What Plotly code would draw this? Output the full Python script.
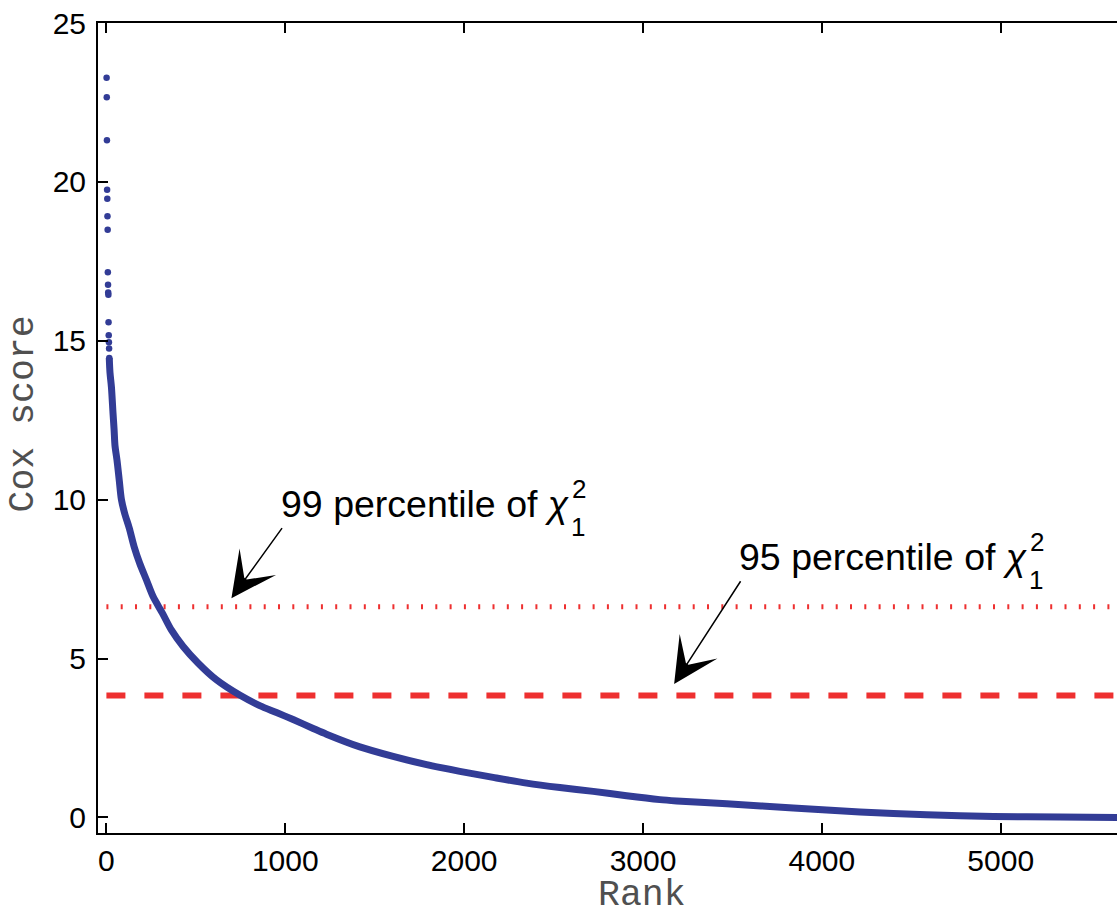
import plotly.graph_objects as go

# ---- data ----
top_rank = [1, 2, 3, 4, 5, 6, 7, 8, 9, 10, 11, 12, 13, 14, 15, 16]
top_score = [23.28, 22.66, 21.31, 19.75, 19.47, 18.92, 18.49, 17.16, 16.76,
             16.52, 16.45, 15.58, 15.17, 14.95, 14.76, 14.46]

curve_rank = [16, 20, 28, 37, 43, 48, 59, 72, 84, 102, 128, 155, 186, 224, 261,
              313, 363, 429, 512, 615, 745, 857, 951, 1044, 1156, 1230, 1417,
              1603, 1790, 1976, 2162, 2349, 2535, 2722, 2908, 3094, 3188, 3468,
              3840, 4213, 4586, 4959, 5332, 5650]
curve_score = [14.46, 14.0, 13.55, 12.72, 12.2, 11.7, 11.25, 10.6, 10.0, 9.57,
               9.1, 8.52, 8.0, 7.47, 6.95, 6.43, 5.90, 5.38, 4.86, 4.33, 3.85,
               3.52, 3.30, 3.08, 2.80, 2.62, 2.22, 1.92, 1.66, 1.45, 1.26, 1.08,
               0.94, 0.82, 0.68, 0.56, 0.52, 0.43, 0.30, 0.17, 0.085, 0.03,
               0.01, 0.0]

chi2_99 = 6.63
chi2_95 = 3.84

x_ticks = [0, 1000, 2000, 3000, 4000, 5000]
y_ticks = [0, 5, 10, 15, 20, 25]

BLUE = "#323C96"
RED = "#EE3030"
SANS = "Liberation Sans, Arial, Helvetica, sans-serif"
MONO = "Liberation Mono, Courier New, monospace"

fig = go.Figure()
fig.add_trace(go.Scatter(x=curve_rank, y=curve_score, mode="lines",
                         line=dict(color=BLUE, width=7, shape="spline", smoothing=0.8),
                         hoverinfo="skip"))
fig.add_trace(go.Scatter(x=top_rank, y=top_score, mode="markers",
                         marker=dict(color=BLUE, size=6.5), hoverinfo="skip"))

fig.add_shape(type="line", xref="x", yref="y", x0=0, x1=6000, y0=chi2_99, y1=chi2_99,
              line=dict(color=RED, width=5, dash="2px,12.3px"), layer="below")
fig.add_shape(type="line", xref="x", yref="y", x0=0, x1=6000, y0=chi2_95, y1=chi2_95,
              line=dict(color=RED, width=6, dash="19px,19px"), layer="below")

annotations = []
# arrows
for head, tail in [((699, 6.90), (988, 9.15)), ((3174, 4.20), (3551, 7.48))]:
    annotations.append(dict(x=head[0], y=head[1], ax=tail[0], ay=tail[1],
                            xref="x", yref="y", axref="x", ayref="y", text="",
                            showarrow=True, arrowhead=3, arrowsize=5, arrowwidth=1.5,
                            arrowcolor="black", standoff=0, startstandoff=0))
# labels
for label, (tx, ty) in [("99 percentile of <i>χ</i>", (980.5, 9.456)),
                        ("95 percentile of <i>χ</i>", (3542, 7.79))]:
    annotations.append(dict(x=tx, y=ty, xref="x", yref="y", text=label, showarrow=False,
                            xanchor="left", yanchor="middle", xshift=-3, yshift=13,
                            font=dict(size=37.5, family=SANS, color="black")))
    annotations.append(dict(x=tx, y=ty, xref="x", yref="y", text="2", showarrow=False,
                            xanchor="center", yanchor="middle", xshift=297, yshift=27.5,
                            font=dict(size=26, family=SANS, color="black")))
    annotations.append(dict(x=tx, y=ty, xref="x", yref="y", text="1", showarrow=False,
                            xanchor="center", yanchor="middle", xshift=296, yshift=-10,
                            font=dict(size=26, family=SANS, color="black")))
# axis titles
annotations.append(dict(x=-0.0731, y=0.5173, xref="paper", yref="paper", text="Cox score",
                        showarrow=False, textangle=-90, xanchor="center", yanchor="middle",
                        font=dict(size=36.5, family=MONO, color="#505050")))
annotations.append(dict(x=0.5337, y=-0.077, xref="paper", yref="paper", text="Rank",
                        showarrow=False, xanchor="center", yanchor="middle",
                        font=dict(size=36.5, family=MONO, color="#505050")))

fig.update_layout(
    width=1117, height=915, autosize=False,
    margin=dict(l=98, r=0, t=23, b=82, pad=0),
    paper_bgcolor="white", plot_bgcolor="white",
    showlegend=False,
    annotations=annotations,
    font=dict(family=SANS, size=30, color="black"),
)
fig.update_xaxes(range=[-47, 5650], tickvals=x_ticks, ticktext=[str(v) for v in x_ticks],
                 showgrid=False, zeroline=False, showline=True, linecolor="black",
                 linewidth=2, mirror="ticks", ticks="inside", ticklen=10, tickwidth=1.5,
                 tickcolor="black", ticklabelstandoff=0, ticklabeloverflow="allow",
                 tickfont=dict(size=30, family=SANS, color="black"))
fig.update_yaxes(range=[-0.49, 25], tickvals=y_ticks, ticktext=[str(v) for v in y_ticks],
                 showgrid=False, zeroline=False, showline=True, linecolor="black",
                 linewidth=2, mirror=False, ticks="inside", ticklen=10, tickwidth=1.5,
                 tickcolor="black", ticklabelstandoff=4, ticklabeloverflow="allow",
                 tickfont=dict(size=30, family=SANS, color="black"))

# remove the default 8px page margin so the figure fills the window exactly
fig.write_html("out.html", config={"displayModeBar": False},
               post_script="document.body.style.margin='0';")
